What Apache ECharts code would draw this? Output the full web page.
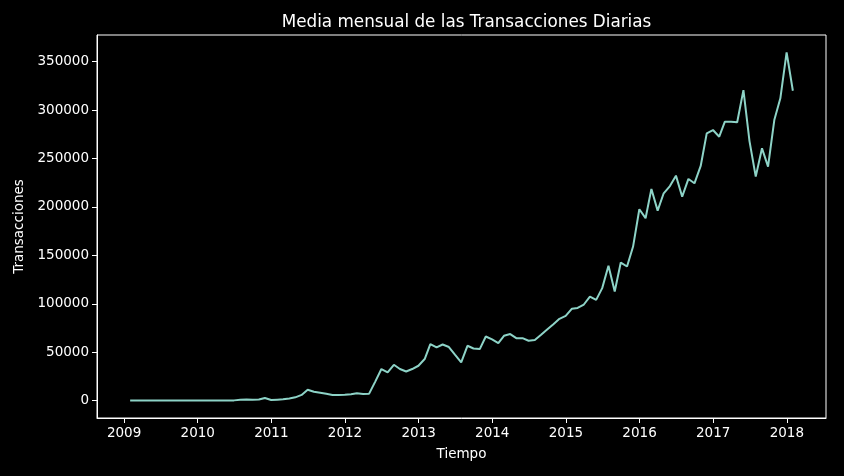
<!DOCTYPE html>
<html>
<head>
<meta charset="utf-8">
<script src="https://cdn.jsdelivr.net/npm/echarts@6/dist/echarts.min.js"></script>
<style>
  html, body { margin: 0; padding: 0; background: #000; }
  #chart { width: 844px; height: 476px; }
</style>
</head>
<body>
<div id="chart"></div>
<script>
// monthly mean of daily transactions, one array per year (month-end values)
const years = [2009, 2010, 2011, 2012, 2013, 2014, 2015, 2016, 2017, 2018];
const tx2009 = [150, 160, 140, 130, 150, 140, 130, 140, 150, 160, 170, 180];
const tx2010 = [220, 240, 260, 280, 300, 350, 900, 1300, 1100, 1200, 2800, 700];
const tx2011 = [1100, 1400, 2400, 3500, 6000, 11300, 9300, 8300, 7200, 6000, 5900, 6100];
const tx2012 = [6600, 7600, 7000, 7300, 20000, 32700, 29200, 37100, 32700, 30200, 32700, 36100];
const tx2013 = [43000, 58500, 55000, 58000, 55400, 47500, 39500, 56700, 53900, 53300, 66300, 63300];
const tx2014 = [59500, 67000, 68800, 64600, 64600, 61900, 62600, 68000, 73500, 79000, 84500, 87500];
const tx2015 = [95000, 95800, 99300, 107500, 104100, 116200, 139200, 112700, 142600, 138500, 159100, 197600];
const tx2016 = [188400, 218600, 196200, 214100, 221500, 232300, 210600, 228900, 224400, 242300, 276000, 279400];
const tx2017 = [272500, 288000, 288000, 287400, 320600, 268000, 231300, 260500, 241600, 289700, 312100, 359500];
const tx2018 = [319900];
const yTicks = [0, 50000, 100000, 150000, 200000, 250000, 300000, 350000];

const byYear = [tx2009, tx2010, tx2011, tx2012, tx2013, tx2014, tx2015, tx2016, tx2017, tx2018];

// month end as a decimal year
function monthEnd(y, m) {
    const start = Date.UTC(y, 0, 1);
    const len = Date.UTC(y + 1, 0, 1) - start;
    return y + (Date.UTC(y, m + 1, 0) - start) / len;
}

const points = [];
byYear.forEach((vals, i) => {
    vals.forEach((v, m) => points.push([monthEnd(years[i], m), v]));
});

const xFirst = points[0][0], xLast = points[points.length - 1][0];
const xPad = (xLast - xFirst) * 0.05;
const yMax = Math.max(...points.map(p => p[1]));
const yMinData = Math.min(...points.map(p => p[1]));
const yPad = (yMax - yMinData) * 0.05;

const font = 'DejaVu Sans';

const option = {
    backgroundColor: '#000',
    animation: false,
    title: {
        text: 'Media mensual de las Transacciones Diarias',
        left: 461.5,
        top: 9,
        textAlign: 'center',
        textStyle: { color: '#fff', fontFamily: font, fontSize: 16.8, fontWeight: 'normal' }
    },
    grid: {
        left: 97, right: 18, top: 35, bottom: 58,
        show: true, borderColor: '#fff', borderWidth: 1, backgroundColor: 'transparent'
    },
    xAxis: {
        type: 'value',
        min: xFirst - xPad,
        max: xLast + xPad,
        name: 'Tiempo',
        nameLocation: 'middle',
        nameGap: 29,
        nameTextStyle: { color: '#fff', fontFamily: font, fontSize: 13.5 },
        axisLine: { show: true, onZero: false, lineStyle: { color: '#fff', width: 1 } },
        axisTick: { show: true, length: 5, lineStyle: { color: '#fff' }, customValues: years },
        axisLabel: { color: '#fff', fontFamily: font, fontSize: 13.5, margin: 8, customValues: years,
            formatter: v => String(Math.round(v)) },
        splitLine: { show: false }
    },
    yAxis: {
        type: 'value',
        min: yMinData - yPad,
        max: yMax + yPad,
        name: 'Transacciones',
        nameLocation: 'middle',
        nameRotate: 90,
        nameGap: 64,
        nameTextStyle: { color: '#fff', fontFamily: font, fontSize: 13.5 },
        axisLine: { show: true, onZero: false, lineStyle: { color: '#fff', width: 1 } },
        axisTick: { show: true, length: 5, lineStyle: { color: '#fff' }, customValues: yTicks },
        axisLabel: { color: '#fff', fontFamily: font, fontSize: 13.5, margin: 8, customValues: yTicks,
            formatter: v => String(Math.round(v)) },
        splitLine: { show: false }
    },
    series: [{
        type: 'line',
        data: points,
        showSymbol: false,
        lineStyle: { color: '#8dd3c7', width: 2 },
        itemStyle: { color: '#8dd3c7' }
    }]
};

const chart = echarts.init(document.getElementById('chart'));
chart.setOption(option);
</script>
</body>
</html>
